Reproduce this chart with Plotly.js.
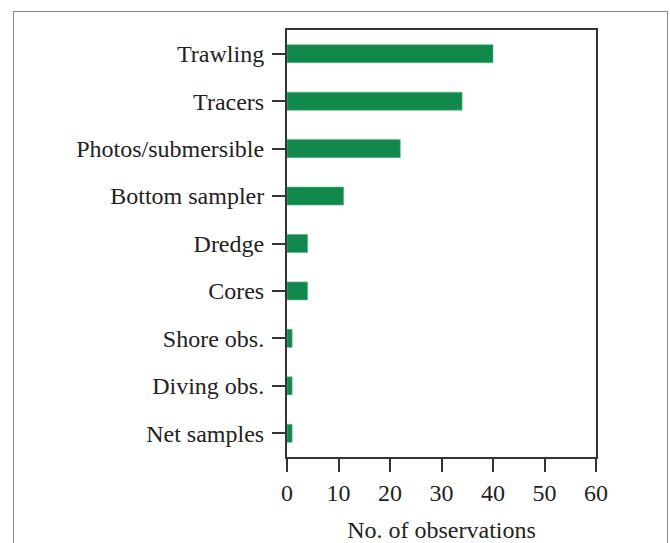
<!DOCTYPE html>
<html>
<head>
<meta charset="utf-8">
<script src="https://cdn.plot.ly/plotly-3.0.1.min.js"></script>
<style>
html,body{margin:0;padding:0;background:#fff;}
#wrap{position:relative;width:670px;height:543px;overflow:hidden;}
#chart{position:absolute;left:0;top:0;width:670px;height:543px;}
#frame{position:absolute;left:13px;top:11px;width:653px;height:560px;border:1.5px solid #8a8a8a;pointer-events:none;}
</style>
</head>
<body>
<div id="wrap"><div id="chart"></div><div id="frame"></div></div>
<script>
const categories = ["Trawling","Tracers","Photos/submersible","Bottom sampler","Dredge","Cores","Shore obs.","Diving obs.","Net samples"];
const observations = [40,34,22,11,4,4,1,1,1];
const xTicks = [0,10,20,30,40,50,60];

const font = {family:'Liberation Serif, Times New Roman, serif', size:24, color:'#222'};

Plotly.newPlot('chart',[{
  type:'bar',
  orientation:'h',
  y: categories,
  x: observations,
  width: 0.38,
  marker:{color:'#12894c', line:{color:'#5fb884', width:0.6}},
  hoverinfo:'none'
}],{
  width:670, height:543,
  margin:{l:287, r:74, t:30, b:86},
  paper_bgcolor:'#fff', plot_bgcolor:'#fff',
  font: font,
  showlegend:false,
  xaxis:{
    range:[0,60], tickvals:xTicks, ticktext:xTicks.map(String),
    showgrid:false, zeroline:false,
    showline:true, linecolor:'#333', linewidth:2, mirror:true,
    ticks:'outside', ticklen:13, tickwidth:2, tickcolor:'#333',
    tickfont:font, ticklabelstandoff:0,
    title:{text:'No. of observations', font:font, standoff:20}
  },
  yaxis:{
    type:'category', autorange:false, range:[8.5,-0.5],
    showgrid:false, zeroline:false,
    showline:true, linecolor:'#333', linewidth:2, mirror:true,
    ticks:'outside', ticklen:13, tickwidth:2, tickcolor:'#333',
    tickfont:font, ticklabelstandoff:3
  }
},{staticPlot:true, displayModeBar:false});
</script>
</body>
</html>
